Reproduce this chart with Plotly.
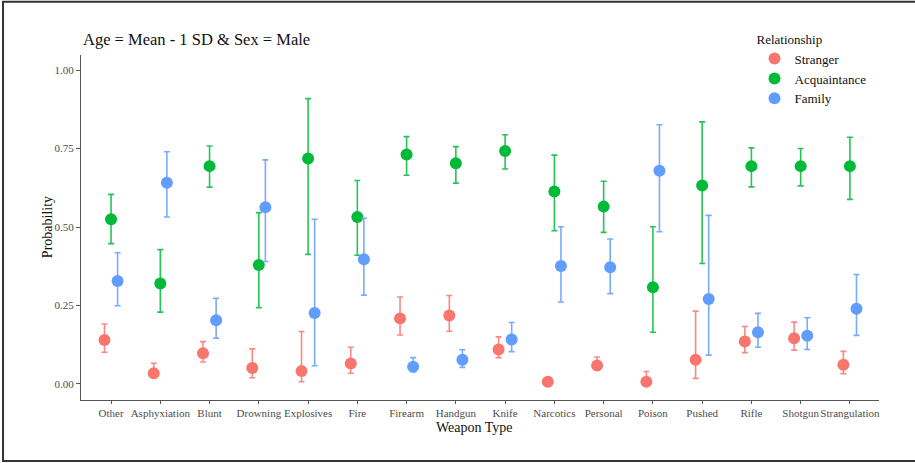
import plotly.graph_objects as go

weapons = ["Other", "Asphyxiation", "Blunt", "Drowning", "Explosives", "Fire",
           "Firearm", "Handgun", "Knife", "Narcotics", "Personal", "Poison",
           "Pushed", "Rifle", "Shotgun", "Strangulation"]

stranger_p = [0.140, 0.034, 0.098, 0.051, 0.041, 0.065, 0.209, 0.218, 0.110, 0.007, 0.059, 0.007, 0.077, 0.135, 0.146, 0.061]
stranger_lo = [0.101, 0.022, 0.070, 0.020, 0.007, 0.034, 0.156, 0.168, 0.084, 0.004, 0.045, 0.002, 0.018, 0.100, 0.108, 0.033]
stranger_hi = [0.191, 0.066, 0.135, 0.112, 0.167, 0.117, 0.277, 0.282, 0.150, 0.012, 0.086, 0.040, 0.232, 0.183, 0.197, 0.104]

acq_p = [0.525, 0.320, 0.694, 0.379, 0.718, 0.532, 0.731, 0.703, 0.742, 0.613, 0.565, 0.308, 0.632, 0.694, 0.694, 0.694]
acq_lo = [0.447, 0.229, 0.627, 0.243, 0.413, 0.410, 0.665, 0.640, 0.685, 0.488, 0.483, 0.165, 0.384, 0.628, 0.631, 0.588]
acq_hi = [0.604, 0.428, 0.758, 0.546, 0.909, 0.648, 0.788, 0.756, 0.794, 0.729, 0.646, 0.501, 0.835, 0.752, 0.750, 0.786]

fam_p = [0.328, 0.641, 0.203, 0.563, 0.226, 0.397, 0.055, 0.077, 0.142, 0.376, 0.372, 0.679, 0.271, 0.165, 0.154, 0.240]
fam_lo = [0.249, 0.532, 0.146, 0.390, 0.058, 0.283, 0.039, 0.053, 0.103, 0.261, 0.288, 0.485, 0.092, 0.117, 0.110, 0.155]
fam_hi = [0.418, 0.740, 0.273, 0.714, 0.525, 0.528, 0.084, 0.109, 0.196, 0.501, 0.462, 0.826, 0.537, 0.225, 0.211, 0.349]

y_ticks = [0.00, 0.25, 0.50, 0.75, 1.00]
y_tick_labels = ["0.00", "0.25", "0.50", "0.75", "1.00"]

series = [
    ("Stranger", stranger_p, stranger_lo, stranger_hi, "#F8766D", "rgba(248,118,109,0.85)", -0.133),
    ("Acquaintance", acq_p, acq_lo, acq_hi, "#00BA38", "rgba(0,186,56,0.85)", 0.0),
    ("Family", fam_p, fam_lo, fam_hi, "#619CFF", "rgba(97,156,255,0.85)", 0.133),
]

FONT = "Liberation Serif"
fig = go.Figure()
for name, p, lo, hi, col, ecol, off in series:
    xs = [i + off for i in range(len(weapons))]
    fig.add_trace(go.Scatter(
        x=xs, y=p, mode="markers", name=name,
        marker=dict(color=col, size=12, line=dict(width=0)),
        error_y=dict(type="data", symmetric=False,
                     array=[h - v for h, v in zip(hi, p)],
                     arrayminus=[v - l for v, l in zip(p, lo)],
                     color=ecol, thickness=1.6, width=3),
    ))

fig.update_layout(
    width=915, height=463,
    margin=dict(l=81, r=36, t=55, b=63),
    paper_bgcolor="white", plot_bgcolor="white",
    font=dict(family=FONT, color="#222222"),
    showlegend=True,
    legend=dict(
        title=dict(text="Relationship", font=dict(family=FONT, size=13, color="#111111")),
        font=dict(family=FONT, size=13, color="#111111"),
        x=0.844, y=1.082, xanchor="left", yanchor="top",
        bgcolor="rgba(0,0,0,0)", itemsizing="constant", tracegroupgap=0,
    ),
    xaxis=dict(
        range=[-0.61, 15.59], automargin=False,
        tickmode="array", tickvals=list(range(len(weapons))), ticktext=weapons,
        tickangle=0,
        showgrid=False, zeroline=False,
        showline=True, linecolor="#555555", linewidth=1,
        ticks="outside", ticklen=3, tickcolor="#555555",
        tickfont=dict(family=FONT, size=11, color="#4D4D4D"),
    ),
    yaxis=dict(
        range=[-0.051, 1.048], automargin=False,
        tickmode="array", tickvals=y_ticks, ticktext=y_tick_labels,
        showgrid=False, zeroline=False,
        showline=True, linecolor="#555555", linewidth=1,
        ticks="outside", ticklen=4, tickcolor="#555555",
        tickfont=dict(family=FONT, size=11, color="#4D4D4D"),
    ),
    annotations=[
        dict(text="Age = Mean - 1 SD & Sex = Male", xref="paper", yref="paper",
             x=0.0, y=1.046, xanchor="left", yanchor="middle", showarrow=False,
             font=dict(family=FONT, size=16.5, color="#111111")),
        dict(text="Probability", xref="paper", yref="paper",
             x=-0.0426, y=0.501, xanchor="center", yanchor="middle", showarrow=False,
             textangle=-90, font=dict(family=FONT, size=14, color="#111111")),
        dict(text="Weapon Type", xref="paper", yref="paper",
             x=0.4937, y=-0.081, xanchor="center", yanchor="middle", showarrow=False,
             font=dict(family=FONT, size=14, color="#111111")),
    ],
    shapes=[dict(
        type="rect", xref="paper", yref="paper",
        x0=-0.0977, x1=1.06, y0=-0.177, y1=1.154,
        line=dict(color="#333333", width=2), fillcolor="rgba(0,0,0,0)",
    )],
)

fig.write_html("out.html", config={"displayModeBar": False},
               post_script="document.body.style.margin='0';document.body.style.padding='0';")
